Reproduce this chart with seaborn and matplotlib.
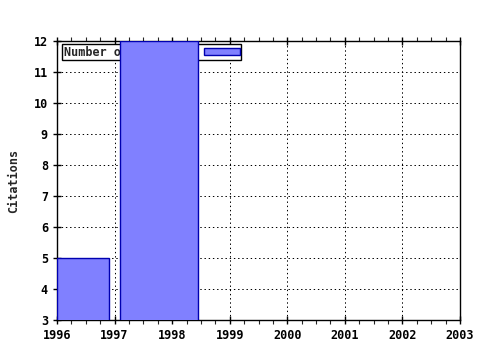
import matplotlib
matplotlib.use("Agg")
import matplotlib.pyplot as plt
import seaborn as sns
import numpy as np
from matplotlib.ticker import MultipleLocator

# data
years_label = ["1996", "1997", "1998", "1999", "2000", "2001", "2002", "2003"]
bar_start = [1996.0, 1997.10]
bar_end = [1996.91, 1998.45]
citations = [5, 12]
series_name = "Number of citations"

sns.set_style("white")
plt.rcParams['font.family'] = ['DejaVu Sans Mono']

fig = plt.figure(figsize=(4.8, 3.5), dpi=100)
ax = fig.add_axes([57/480, 1-320/350, (460-57)/480, (320-41)/350])

edges = [bar_start[0], bar_end[0], bar_start[1], bar_end[1]]
mids = [(a + b) / 2 for a, b in zip(bar_start, bar_end)]
sns.histplot(x=mids, weights=citations, bins=edges, ax=ax,
             color="#8080ff", edgecolor="#0000b0", linewidth=1.0,
             alpha=1.0, label=series_name, zorder=3)

ax.set_xlim(1996, 2003)
ax.set_ylim(3, 12)
ax.set_xticks([int(y) for y in years_label])
ax.set_xticklabels(years_label)
ax.set_yticks(range(3, 13))
ax.xaxis.set_minor_locator(MultipleLocator(0.25))
ax.set_axisbelow(True)
ax.grid(True, which="major", color="black", linestyle=(0, (1.4, 2.8)), linewidth=0.72)

for s in ax.spines.values():
    s.set_color("black")
    s.set_linewidth(1.0)

ax.tick_params(axis="both", which="major", direction="inout", length=6, width=1,
               labelsize=8.5, colors="black", top=True, bottom=True, left=True, right=False)
ax.tick_params(axis="x", which="minor", direction="out", length=3, width=0.8,
               top=True, bottom=True)
for lab in ax.get_xticklabels() + ax.get_yticklabels():
    lab.set_fontweight("bold")

ax.set_xlabel("")
ax.set_ylabel("Citations", fontsize=8.5, fontweight="bold", labelpad=10)

leg = ax.legend(loc="upper left", bbox_to_anchor=(0.013, 0.99), markerfirst=False,
                frameon=True, fancybox=False, shadow=False, borderpad=0.15,
                handlelength=3.0, handleheight=0.5, handletextpad=0.4,
                borderaxespad=0, prop={"size": 8.5, "weight": "bold"})
leg.get_frame().set_edgecolor("black")
leg.get_frame().set_linewidth(1.0)
leg.get_frame().set_alpha(1.0)
leg.set_zorder(2)

fig.savefig("out.png", dpi=100, facecolor="white")
